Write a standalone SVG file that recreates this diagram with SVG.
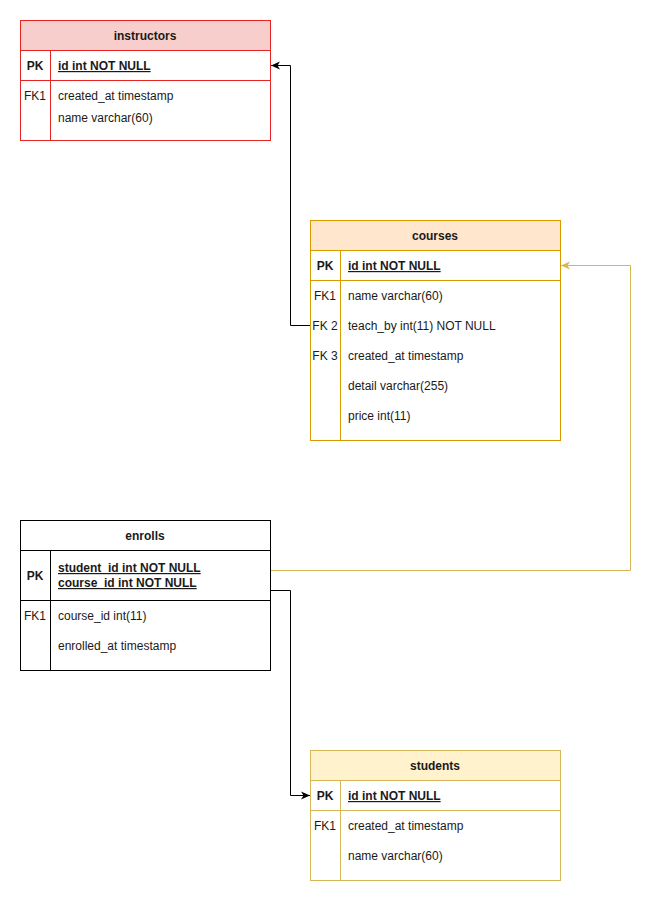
<svg xmlns="http://www.w3.org/2000/svg" width="660" height="903" viewBox="0 0 660 903">
  <style>
    text { font-family: "Liberation Sans", Arial, Helvetica, sans-serif; font-size: 12px; fill: #1a1a1a; }
    .title { font-weight: bold; text-anchor: middle; }
    .key { text-anchor: middle; }
    .pk { font-weight: bold; }
    .ul { text-decoration: underline; }
    .edge { fill: none; stroke-width: 1; }
  </style>
  <defs>
    <marker id="arrowBlack" viewBox="0 0 10 10" refX="9" refY="5" markerWidth="10" markerHeight="10" markerUnits="userSpaceOnUse" orient="auto">
      <path d="M0,1 L9,5 L0,9 L2.5,5 Z" fill="#000"/>
    </marker>
    <marker id="arrowGold" viewBox="0 0 10 10" refX="9" refY="5" markerWidth="10" markerHeight="10" markerUnits="userSpaceOnUse" orient="auto">
      <path d="M0,1 L9,5 L0,9 L2.5,5 Z" fill="#d6b656"/>
    </marker>
  </defs>
  <rect width="660" height="903" fill="#ffffff"/>

  <!-- instructors table -->
  <g id="instructors">
    <rect x="20.5" y="20.5" width="250" height="120" fill="#ffffff" stroke="#e62424"/>
    <rect x="20.5" y="20.5" width="250" height="30" fill="#f8cecc" stroke="#e62424"/>
    <line x1="20.5" y1="80.5" x2="270.5" y2="80.5" stroke="#e62424"/>
    <line x1="50.5" y1="50.5" x2="50.5" y2="140.5" stroke="#e62424"/>
    <text class="title" x="145" y="40">instructors</text>
    <text class="key pk" x="35" y="70">PK</text>
    <text class="pk ul" x="58" y="70">id int NOT NULL</text>
    <text class="key" x="35" y="100">FK1</text>
    <text x="58" y="100">created_at timestamp</text>
    <text x="58" y="122">name varchar(60)</text>
  </g>

  <!-- courses table -->
  <g id="courses">
    <rect x="310.5" y="220.5" width="250" height="220" fill="#ffffff" stroke="#d79b00"/>
    <rect x="310.5" y="220.5" width="250" height="30" fill="#ffe6cc" stroke="#d79b00"/>
    <line x1="310.5" y1="280.5" x2="560.5" y2="280.5" stroke="#d79b00"/>
    <line x1="340.5" y1="250.5" x2="340.5" y2="440.5" stroke="#d79b00"/>
    <text class="title" x="435" y="240">courses</text>
    <text class="key pk" x="325" y="270">PK</text>
    <text class="pk ul" x="348" y="270">id int NOT NULL</text>
    <text class="key" x="325" y="300">FK1</text>
    <text x="348" y="300">name varchar(60)</text>
    <text class="key" x="325" y="330">FK 2</text>
    <text x="348" y="330">teach_by int(11) NOT NULL</text>
    <text class="key" x="325" y="360">FK 3</text>
    <text x="348" y="360">created_at timestamp</text>
    <text x="348" y="390">detail varchar(255)</text>
    <text x="348" y="420">price int(11)</text>
  </g>

  <!-- enrolls table -->
  <g id="enrolls">
    <rect x="20.5" y="520.5" width="250" height="150" fill="#ffffff" stroke="#000000"/>
    <line x1="20.5" y1="550.5" x2="270.5" y2="550.5" stroke="#000000"/>
    <line x1="20.5" y1="600.5" x2="270.5" y2="600.5" stroke="#000000"/>
    <line x1="50.5" y1="550.5" x2="50.5" y2="670.5" stroke="#000000"/>
    <text class="title" x="145" y="540">enrolls</text>
    <text class="key pk" x="35" y="580">PK</text>
    <text class="pk ul" x="58" y="572">student_id int NOT NULL</text>
    <text class="pk ul" x="58" y="587">course_id int NOT NULL</text>
    <text class="key" x="35" y="620">FK1</text>
    <text x="58" y="620">course_id int(11)</text>
    <text x="58" y="650">enrolled_at timestamp</text>
  </g>

  <!-- students table -->
  <g id="students">
    <rect x="310.5" y="750.5" width="250" height="130" fill="#ffffff" stroke="#d6b656"/>
    <rect x="310.5" y="750.5" width="250" height="30" fill="#fff2cc" stroke="#d6b656"/>
    <line x1="310.5" y1="810.5" x2="560.5" y2="810.5" stroke="#d6b656"/>
    <line x1="340.5" y1="780.5" x2="340.5" y2="880.5" stroke="#d6b656"/>
    <text class="title" x="435" y="770">students</text>
    <text class="key pk" x="325" y="800">PK</text>
    <text class="pk ul" x="348" y="800">id int NOT NULL</text>
    <text class="key" x="325" y="830">FK1</text>
    <text x="348" y="830">created_at timestamp</text>
    <text x="348" y="860">name varchar(60)</text>
  </g>

  <!-- relationships -->
  <g id="connectors">
    <path class="edge" d="M310,325.5 H290.5 V65.5 H271" stroke="#000000" marker-end="url(#arrowBlack)"/>
    <path class="edge" d="M271,570.5 H630.5 V265.5 H561" stroke="#d6b656" marker-end="url(#arrowGold)"/>
    <path class="edge" d="M271,590.5 H290.5 V795.5 H310" stroke="#000000" marker-end="url(#arrowBlack)"/>
  </g>
</svg>
